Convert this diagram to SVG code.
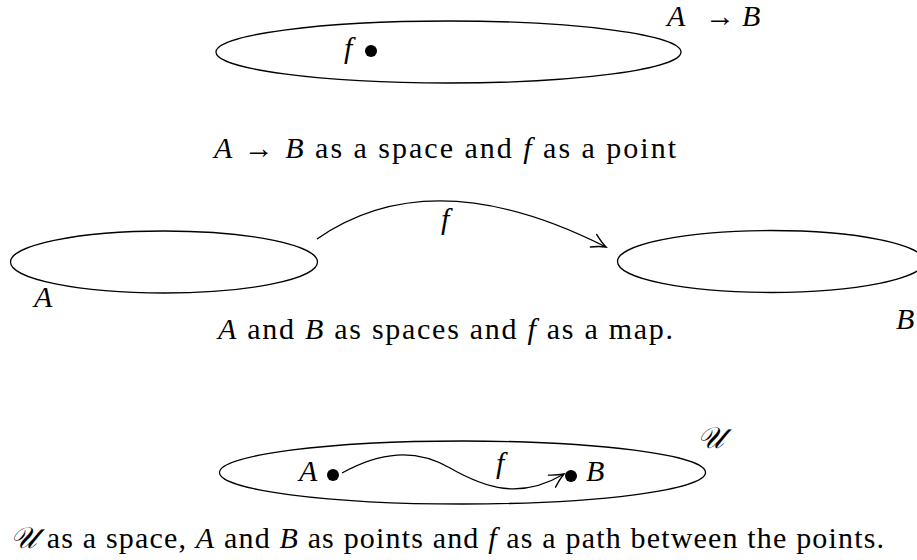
<svg xmlns="http://www.w3.org/2000/svg" width="917" height="560" viewBox="0 0 917 560">
<style>
text{font-family:"Liberation Serif","Times New Roman",serif;font-size:30px;fill:#000}
.m{font-style:italic}
.sp{fill:none;stroke:#000;stroke-width:1.3}
.ln{fill:none;stroke:#000;stroke-width:1.3}
.dot{fill:#000}
</style>
<defs>
<marker id="arr" markerUnits="userSpaceOnUse" markerWidth="24" markerHeight="24" viewBox="-18 -12 24 24" refX="0" refY="0" orient="auto" overflow="visible">
<path d="M-14,-7 Q-6,-2 0,0 Q-6,2 -14,7" fill="none" stroke="#000" stroke-width="1.4" stroke-linecap="round"/>
</marker>
</defs>
<rect width="917" height="560" fill="#fff"/>

<g id="space-AtoB">
<ellipse class="sp" cx="448.5" cy="52" rx="232.5" ry="31"/>
<text x="667" y="26"><tspan class="m">A</tspan><tspan x="705">→</tspan><tspan x="742" class="m">B</tspan></text>
</g>
<g id="point-f">
<circle class="dot" cx="371" cy="51" r="6"/>
<text x="344" y="58" class="m">f</text>
</g>
<text x="214" y="158" textLength="462" lengthAdjust="spacing"><tspan class="m">A</tspan> → <tspan class="m">B</tspan> as a space and <tspan class="m">f</tspan> as a point</text>

<g id="space-A">
<ellipse class="sp" cx="164" cy="262" rx="153.5" ry="31"/>
<text x="34" y="307" class="m">A</text>
</g>
<g id="space-B">
<ellipse class="sp" cx="771" cy="261.5" rx="153.5" ry="31"/>
<text x="896" y="329" class="m">B</text>
</g>
<text x="218" y="339" textLength="455" lengthAdjust="spacing"><tspan class="m">A</tspan> and <tspan class="m">B</tspan> as spaces and <tspan class="m">f</tspan> as a map.</text>

<g id="space-U">
<ellipse class="sp" cx="462.5" cy="472.5" rx="243" ry="31.5"/>
<text x="697" y="448" class="m">𝒰</text>
</g>
<g id="point-A">
<circle class="dot" cx="333" cy="475" r="6"/>
<text x="299" y="481" class="m">A</text>
</g>
<g id="point-B">
<circle class="dot" cx="571" cy="476" r="6"/>
<text x="586" y="481" class="m">B</text>
</g>
<text x="10" y="548" textLength="874" lengthAdjust="spacing"><tspan class="m">𝒰</tspan> as a space, <tspan class="m">A</tspan> and <tspan class="m">B</tspan> as points and <tspan class="m">f</tspan> as a path between the points.</text>

<g id="connectors">
<path class="ln" d="M317,239 Q432,159 606,247" marker-end="url(#arr)"/>
<text x="441" y="229" class="m">f</text>
<path class="ln" d="M342,473 C380,452 415,448 450,468 C485,488 520,500 564,474" marker-end="url(#arr)"/>
<text x="496" y="473" class="m">f</text>
</g>
</svg>
